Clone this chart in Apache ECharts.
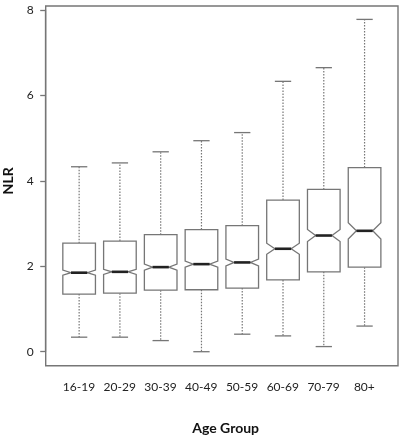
<!DOCTYPE html>
<html>
<head>
<meta charset="utf-8">
<script src="https://cdn.jsdelivr.net/npm/echarts@6/dist/echarts.min.js"></script>
<style>
  html, body { margin: 0; padding: 0; background: #fff; }
  #main { width: 401px; height: 440px; }
</style>
</head>
<body>
<div id="main"></div>
<script>
// age groups and box stats
var categories = ['16-19', '20-29', '30-39', '40-49', '50-59', '60-69', '70-79', '80+'];
var whiskerLow  = [0.34, 0.34, 0.26, 0.00, 0.41, 0.37, 0.12, 0.60];
var q1          = [1.35, 1.37, 1.44, 1.45, 1.49, 1.68, 1.87, 1.98];
var median      = [1.85, 1.87, 1.98, 2.05, 2.09, 2.41, 2.72, 2.83];
var q3          = [2.54, 2.59, 2.74, 2.86, 2.95, 3.55, 3.80, 4.31];
var whiskerHigh = [4.33, 4.42, 4.68, 4.94, 5.13, 6.33, 6.65, 7.78];
var notchHalf   = [0.06, 0.06, 0.07, 0.07, 0.08, 0.13, 0.14, 0.19];
var yTicks = [0, 8, 2]; // min, max, step

// boxes sit at x = 1..8, R style
var boxData = [];
for (var i = 0; i < categories.length; i++) {
  boxData.push([i + 1, whiskerLow[i], q1[i], median[i], q3[i], whiskerHigh[i], notchHalf[i]]);
}

var lineCol = '#767676';

function renderBox(params, api) {
  var xv = api.value(0);
  var lo = api.coord([xv, api.value(1)]);
  var p1 = api.coord([xv, api.value(2)]);
  var md = api.coord([xv, api.value(3)]);
  var p3 = api.coord([xv, api.value(4)]);
  var hi = api.coord([xv, api.value(5)]);
  var nUp = api.coord([xv, api.value(3) + api.value(6)]);
  var nDn = api.coord([xv, api.value(3) - api.value(6)]);
  var cx = md[0];
  var w = api.size([1, 0])[0] * 0.8 / 2;   // half box width
  var l = cx - w, r = cx + w;
  var dashStyle = { stroke: lineCol, lineWidth: 1.2, lineDash: [1.5, 1.5] };
  var solid = { stroke: lineCol, lineWidth: 1.3 };
  return {
    type: 'group',
    children: [
      { type: 'line', shape: { x1: cx, y1: p3[1], x2: cx, y2: hi[1] }, style: dashStyle },
      { type: 'line', shape: { x1: cx, y1: p1[1], x2: cx, y2: lo[1] }, style: dashStyle },
      { type: 'line', shape: { x1: cx - w / 2, y1: hi[1], x2: cx + w / 2, y2: hi[1] }, style: solid },
      { type: 'line', shape: { x1: cx - w / 2, y1: lo[1], x2: cx + w / 2, y2: lo[1] }, style: solid },
      {
        type: 'polygon',
        shape: {
          points: [
            [l, p3[1]], [r, p3[1]], [r, nUp[1]], [cx + w / 2, md[1]], [r, nDn[1]],
            [r, p1[1]], [l, p1[1]], [l, nDn[1]], [cx - w / 2, md[1]], [l, nUp[1]]
          ]
        },
        style: { fill: '#fff', stroke: lineCol, lineWidth: 1.3 }
      },
      { type: 'line', shape: { x1: cx - w / 2, y1: md[1], x2: cx + w / 2, y2: md[1] },
        style: { stroke: '#222', lineWidth: 2.6 } }
    ]
  };
}

var chart = echarts.init(document.getElementById('main'));
chart.setOption({
  backgroundColor: '#fff',
  animation: false,
  textStyle: { fontFamily: 'Lato' },
  grid: [
    // frame around the plot area
    { left: 45.7, right: 3, top: 6, bottom: 74.3, outerBoundsMode: 'none', show: true, borderColor: lineCol, borderWidth: 1.4, backgroundColor: 'transparent' },
    // data area (x from 0.18 to 8.82, y from 0 to 8)
    { left: 45.7, right: 3, top: 10, bottom: 88.3, outerBoundsMode: 'none' },
    // label strip for the category names
    { left: 58.6, right: 16.3, top: 10, bottom: 88.3, outerBoundsMode: 'none' }
  ],
  xAxis: [
    { gridIndex: 0, type: 'value', show: false },
    { gridIndex: 1, type: 'value', min: 0.18, max: 8.82, show: false },
    {
      gridIndex: 2,
      type: 'category',
      data: categories,
      offset: 14,
      axisLine: { show: false },
      axisTick: { alignWithLabel: true, length: 4, lineStyle: { color: lineCol, width: 1.3 } },
      axisLabel: { margin: 15, fontSize: 12, color: '#222', interval: 0 },
      splitLine: { show: false },
      name: 'Age Group',
      nameLocation: 'middle',
      nameGap: 56,
      nameTextStyle: { fontSize: 14, fontWeight: 'bold', color: '#111', padding: [0, 0, 0, 8] }
    }
  ],
  yAxis: [
    { gridIndex: 0, type: 'value', show: false },
    {
      gridIndex: 1,
      type: 'value',
      min: yTicks[0],
      max: yTicks[1],
      interval: yTicks[2],
      axisLine: { show: true, onZero: false, lineStyle: { color: lineCol, width: 1.3 } },
      axisTick: { show: true, length: 5.5, lineStyle: { color: lineCol, width: 1.3 } },
      axisLabel: { margin: 12, fontSize: 12, color: '#222' },
      splitLine: { show: false },
      name: 'NLR',
      nameLocation: 'middle',
      nameGap: 30,
      nameTextStyle: { fontSize: 14, fontWeight: 'bold', color: '#111' }
    },
    { gridIndex: 2, type: 'value', min: yTicks[0], max: yTicks[1], show: false }
  ],
  series: [{
    type: 'custom',
    xAxisIndex: 1,
    yAxisIndex: 1,
    renderItem: renderBox,
    encode: { x: 0, y: [1, 2, 3, 4, 5] },
    data: boxData
  }]
});
</script>
</body>
</html>
